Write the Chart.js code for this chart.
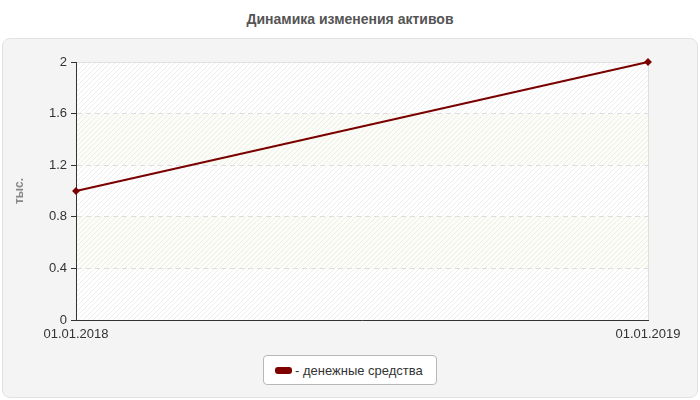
<!DOCTYPE html>
<html>
<head>
<meta charset="utf-8">
<script src="https://cdn.jsdelivr.net/npm/chart.js@4"></script>
<style>
  html, body { margin: 0; padding: 0; background: #fff; }
  #wrap { position: relative; width: 700px; height: 400px; font-family: "Liberation Sans", Arial, sans-serif; }
  #title { position: absolute; left: 0; top: 11px; width: 700px; text-align: center; font-size: 14px; font-weight: bold; color: #555; }
  #panel { position: absolute; left: 2px; top: 38px; width: 694px; height: 358px; background: #f4f4f4; border: 1px solid #e2e2e2; border-radius: 8px; }
  #chart { position: absolute; left: 0; top: 0; }
  #legend { position: absolute; left: 263px; top: 355px; width: 172px; height: 28px; background: #fff; border: 1px solid #b8b8b8; border-radius: 4px; font-size: 13px; color: #333; display: flex; align-items: center; }
  #legend .sw { display: inline-block; width: 17px; height: 7px; background: #800000; border-radius: 3px; margin-left: 11px; margin-right: 3px; }
</style>
</head>
<body>
<div id="wrap">
  <div id="title">Динамика изменения активов</div>
  <div id="panel"></div>
  <canvas id="chart" width="700" height="400"></canvas>
  <div id="legend"><span class="sw"></span>- денежные средства</div>
</div>
<script>
const dates = ["01.01.2018", "01.01.2019"];
const cashValues = [1, 2];
const yTicks = [0, 0.4, 0.8, 1.2, 1.6, 2];
const seriesName = "денежные средства";
const yTitle = "тыс.";

// hatched background with alternating bands
const plotBackground = {
    id: "plotBackground",
    beforeDraw(chart) {
        const { ctx, chartArea: a, scales } = chart;
        const y = scales.y;
        ctx.save();
        for (let i = 0; i < yTicks.length - 1; i++) {
            const top = y.getPixelForValue(yTicks[i + 1]);
            const bottom = y.getPixelForValue(yTicks[i]);
            ctx.fillStyle = i % 2 === 1 ? "#fdfdf7" : "#ffffff";
            ctx.fillRect(a.left, top, a.right - a.left, bottom - top);
        }
        ctx.beginPath();
        ctx.rect(a.left, a.top, a.right - a.left, a.bottom - a.top);
        ctx.clip();
        ctx.strokeStyle = "rgba(200,200,200,0.3)";
        ctx.lineWidth = 1;
        const h = a.bottom - a.top;
        for (let x = a.left - h; x < a.right + h; x += 5) {
            ctx.beginPath();
            ctx.moveTo(x, a.bottom);
            ctx.lineTo(x + h, a.top);
            ctx.stroke();
        }
        ctx.restore();
        ctx.save();
        ctx.strokeStyle = "#e0e0e0";
        ctx.beginPath();
        ctx.moveTo(a.left, a.top + 0.5);
        ctx.lineTo(a.right + 0.5, a.top + 0.5);
        ctx.lineTo(a.right + 0.5, a.bottom);
        ctx.stroke();
        ctx.restore();
    }
};

new Chart(document.getElementById("chart"), {
    type: "line",
    data: {
        labels: dates,
        datasets: [{
            label: seriesName,
            data: cashValues,
            borderColor: "#7a0000",
            backgroundColor: "#7a0000",
            borderWidth: 2,
            pointStyle: "rectRot",
            pointRadius: 2.5,
            tension: 0,
            clip: false
        }]
    },
    options: {
        responsive: false,
        animation: false,
        layout: { padding: { left: 12, right: 52, top: 62, bottom: 0 } },
        plugins: {
            legend: { display: false },
            tooltip: { enabled: false }
        },
        scales: {
            x: {
                offset: false,
                afterFit: s => { s.height = 80; },
                grid: { display: false, drawTicks: true, tickLength: 5, tickColor: "#333" },
                border: { color: "#333", width: 1 },
                ticks: { color: "#333", font: { size: 13, family: "Liberation Sans" }, maxRotation: 0, padding: 2 }
            },
            y: {
                min: 0,
                max: 2,
                afterFit: s => { s.width = 64; },
                afterBuildTicks: s => { s.ticks = yTicks.map(v => ({ value: v })); },
                grid: {
                    color: ctx => (ctx.tick && (ctx.tick.value === 0 || ctx.tick.value === 2)) ? "rgba(0,0,0,0)" : "#dddddd",
                    tickColor: "#333",
                    tickLength: 5,
                    drawTicks: true
                },
                border: { color: "#333", width: 1, dash: [5, 4] },
                title: { display: true, text: yTitle, color: "#888", font: { size: 12, weight: "bold", family: "Liberation Sans" }, padding: 0 },
                ticks: {
                    color: "#333",
                    font: { size: 13, family: "Liberation Sans" },
                    padding: 4,
                    callback: v => String(Math.round(v * 10) / 10)
                }
            }
        }
    },
    plugins: [plotBackground]
});
</script>
</body>
</html>
